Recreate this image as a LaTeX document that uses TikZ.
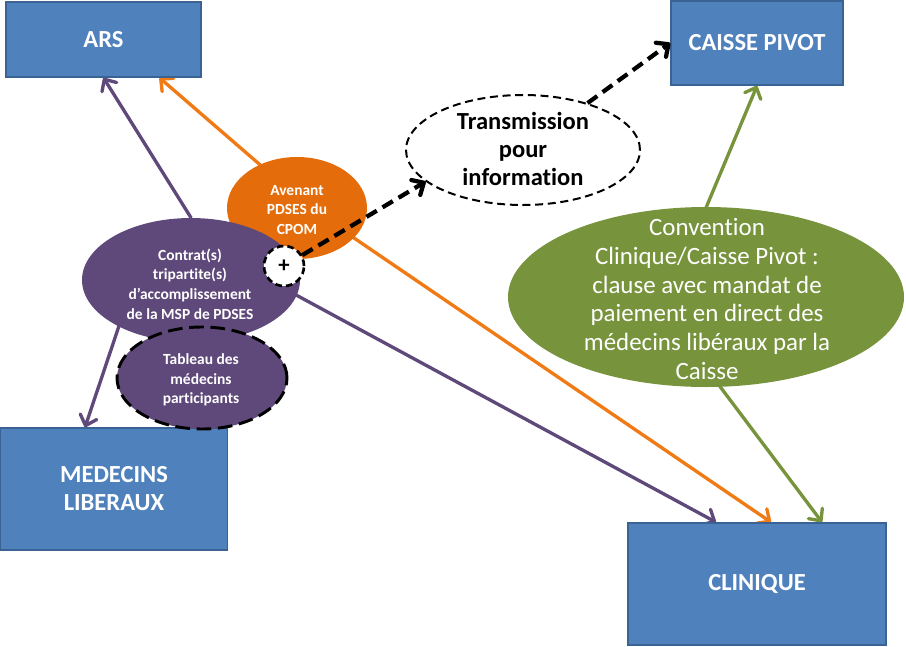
\documentclass[tikz,border=0pt]{standalone}
\usepackage{fontspec}
\setmainfont{Carlito}[Ligatures=NoCommon]
\usetikzlibrary{arrows.meta,shapes.geometric,calc,backgrounds}
\definecolor{boxblue}{HTML}{4F81BD}
\definecolor{boxedge}{HTML}{3A6393}
\definecolor{purp}{HTML}{5F497A}
\definecolor{orng}{HTML}{E46C0A}
\definecolor{orngline}{HTML}{F07A14}
\definecolor{grn}{HTML}{77933C}
\tikzset{
  box/.style={rectangle, fill=boxblue, draw=boxedge, line width=1.2pt, text=white,
    font=\bfseries\fontsize{18.4}{21}\selectfont, align=center, inner sep=0pt},
  blob/.style={ellipse, inner sep=0pt},
  smalltext/.style={text=white, font=\bfseries\fontsize{11.6}{14.8}\selectfont, align=center, inner sep=0pt},
  link/.style={line width=2.5pt, line cap=round, -{Straight Barb[length=7pt,width=13pt,line cap=round,line join=round]}},
  dasharrow/.style={line width=3.2pt, black, dash pattern=on 9pt off 5pt, -{Straight Barb[length=7pt,width=13pt,line cap=round,line join=round]}},
}
\begin{document}
\begin{tikzpicture}[x=0.75pt,y=-0.75pt]
\useasboundingbox (0,0) rectangle (906,646);
% boxes
\node[box, minimum width=146.25pt, minimum height=56.25pt] (ars) at (103.5,39.5) {ARS};
\node[box, minimum width=129pt, minimum height=63pt] (caisse) at (757,43) {CAISSE PIVOT};
\node[box, minimum width=170.25pt, minimum height=91.5pt] (med) at (114,489) {MEDECINS\\LIBERAUX};
\node[box, minimum width=193.5pt, minimum height=91.5pt] (clin) at (757,584) {CLINIQUE};
% ellipses
\node[blob, draw=black, line width=1.5pt, dash pattern=on 6pt off 3.5pt, fill=white,
  minimum width=175.5pt, minimum height=82.5pt] (trans) at (523,150) {};
\node[blob, fill=grn, minimum width=297pt, minimum height=135pt] (green) at (706,297) {};
\node[blob, fill=orng, minimum width=105pt, minimum height=76.5pt] (avenant) at (297,208) {};
\node[blob, fill=purp, minimum width=163.5pt, minimum height=93pt] (contrat) at (191,280) {};
\node[blob, fill=purp, draw=black, line width=2.2pt, dash pattern=on 11pt off 5pt,
  minimum width=127.5pt, minimum height=76.5pt] (tableau) at (202,378) {};
\node[circle, fill=white, draw=black, line width=2pt, dash pattern=on 5pt off 3pt,
  minimum size=30pt, inner sep=0pt, font=\bfseries\fontsize{17}{18}\selectfont] (plus) at (284,266) {+};
% texts
\node[inner sep=0pt, align=center, font=\bfseries\fontsize{18.4}{21}\selectfont] (transtext) at (523,149)
  {Transmission\\pour\\information};
\node[inner sep=0pt, align=center, text=white, font=\fontsize{18.7}{21.7}\selectfont] (greentext) at (707,299)
  {Convention\\Clinique/Caisse Pivot :\\clause avec mandat de\\paiement en direct des\\médecins libéraux par la\\Caisse};
\node[smalltext] (aventext) at (297,210) {Avenant\\PDSES du\\CPOM};
\node[smalltext] (context) at (190,284) {Contrat(s)\\tripartite(s)\\d’accomplissement\\de la MSP de PDSES};
\node[smalltext] (tabtext) at (201,380) {Tableau des\\médecins\\participants};
% coloured connectors behind the shapes
\begin{scope}[on background layer]
\draw[link, purp] (contrat.north) -- (ars.south);
\draw[link, orngline] ($(avenant.center)+(13,0)$) -- ($(ars.south)+(56,0)$);
\draw[link, orngline] ($(avenant.center)+(13,0)$) -- ($(clin.north)+(14,0)$);
\draw[link, purp] ($(contrat.center)+(70,-4)$) -- ($(clin.north)+(-41,0)$);
\draw[link, purp] ($(contrat.center)+(-70,40)$) -- ($(med.north)+(-29,0)$);
\draw[link, grn] ($(green.center)+(-26,-27)$) -- (caisse.south);
\draw[link, grn] ($(green.center)+(-36,23)$) -- ($(clin.north)+(65,0)$);
\end{scope}
% dashed connectors
\draw[dasharrow] (plus) -- (trans.198);
\draw[dasharrow] (trans) -- (caisse.west);
\end{tikzpicture}
\end{document}
